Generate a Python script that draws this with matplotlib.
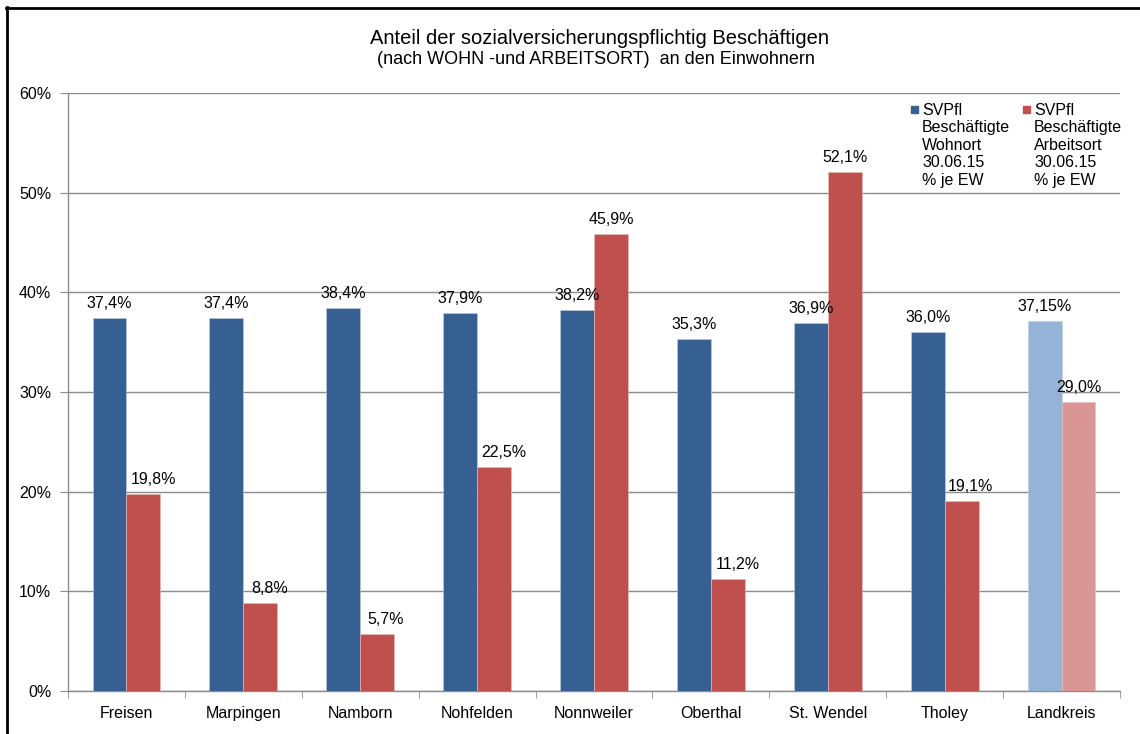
import matplotlib
matplotlib.use("Agg")
import matplotlib.pyplot as plt
from matplotlib.lines import Line2D
from matplotlib.patches import Rectangle
from matplotlib.ticker import MultipleLocator, FuncFormatter
import numpy as np

plt.rcParams['font.family'] = ['Liberation Sans', 'DejaVu Sans']

categories = ["Freisen", "Marpingen", "Namborn", "Nohfelden", "Nonnweiler",
              "Oberthal", "St. Wendel", "Tholey", "Landkreis"]
wohnort = [37.4, 37.4, 38.4, 37.9, 38.2, 35.3, 36.9, 36.0, 37.15]
arbeitsort = [19.8, 8.8, 5.7, 22.5, 45.9, 11.2, 52.1, 19.1, 29.0]
wohnort_decimals = [1, 1, 1, 1, 1, 1, 1, 1, 2]
arbeitsort_decimals = [1, 1, 1, 1, 1, 1, 1, 1, 1]
legend_labels = ["SVPfl\nBeschäftigte\nWohnort\n30.06.15\n% je EW",
                 "SVPfl\nBeschäftigte\nArbeitsort\n30.06.15\n% je EW"]
title = "Anteil der sozialversicherungspflichtig Beschäftigen"
subtitle = "(nach WOHN -und ARBEITSORT)  an den Einwohnern"

blue = "#366092"
red = "#C0504D"
blue_light = "#95B3D7"
red_light = "#D99694"
grid_col = "#8C8C8C"
fs = 11.5

fig = plt.figure(figsize=(11.4, 7.34), dpi=100)
ax = fig.add_axes([68/1140, 1-691/734, (1120-68)/1140, (691-93)/734])

x = np.arange(len(categories))
w = 0.29
n = len(categories)
bcols = [blue]*(n-1) + [blue_light]
rcols = [red]*(n-1) + [red_light]
ax.bar(x - w/2, wohnort, w, color=bcols, edgecolor="#BFD0E6", linewidth=0.4, zorder=3)
ax.bar(x + w/2, arbeitsort, w, color=rcols, edgecolor="#E6BFBE", linewidth=0.4, zorder=3)

def fmt(v, d):
    return (f"{v:.{d}f}").replace(".", ",") + "%"

# red label horizontal shift (points), as in the original layout
red_dx = [7, 7, 6, 7, 0, 7, 0, 6, 0]
for i in range(n):
    ax.annotate(fmt(wohnort[i], wohnort_decimals[i]), (x[i] - w/2, wohnort[i]),
                xytext=(0, 5), textcoords="offset points", ha="center", va="bottom",
                fontsize=fs, zorder=5)
    ax.annotate(fmt(arbeitsort[i], arbeitsort_decimals[i]), (x[i] + w/2, arbeitsort[i]),
                xytext=(red_dx[i], 5), textcoords="offset points", ha="center", va="bottom",
                fontsize=fs, zorder=5)

ax.set_xlim(-0.5, n - 0.5)
ax.set_ylim(0, 60)
ax.yaxis.set_major_locator(MultipleLocator(10))
ax.yaxis.set_major_formatter(FuncFormatter(lambda v, p: f"{int(round(v))}%"))
ax.grid(axis="y", color=grid_col, linewidth=1.0, zorder=0)
ax.set_axisbelow(True)
for s in ["top", "right"]:
    ax.spines[s].set_visible(False)
for s in ["left", "bottom"]:
    ax.spines[s].set_color(grid_col)
    ax.spines[s].set_linewidth(1.0)

ax.set_xticks(x)
ax.set_xticklabels(categories, fontsize=fs)
ax.set_xticks(np.arange(-0.5, n, 1.0), minor=True)
ax.tick_params(axis="x", which="major", length=0, pad=11)
ax.tick_params(axis="x", which="minor", length=5, color=grid_col, direction="out")
ax.tick_params(axis="y", length=6, color=grid_col, direction="out", pad=6, labelsize=fs)

# titles
fig.text(599/1140, 1-38/734, title, ha="center", va="center", fontsize=14.5)
fig.text(596/1140, 1-59/734, subtitle, ha="center", va="center", fontsize=13)

# legend (manual)
for (mx, tx, col, lab) in [(911, 922, blue, legend_labels[0]), (1023, 1034, red, legend_labels[1])]:
    fig.patches.append(Rectangle((mx/1140, 1-113/734), 7/1140, 7/734,
                                 transform=fig.transFigure, color=col, zorder=6))
    fig.text(tx/1140, 1-103/734, lab, ha="left", va="top", fontsize=fs,
             linespacing=1.2, zorder=6)

# outer frame
fig.add_artist(Line2D([6.5/1140, 6.5/1140], [0, 1-7/734], color="black", linewidth=2,
                      transform=fig.transFigure))
fig.add_artist(Line2D([6/1140, 1], [1-7.5/734, 1-7.5/734], color="black", linewidth=2,
                      transform=fig.transFigure))

fig.savefig("out.png", dpi=100)
